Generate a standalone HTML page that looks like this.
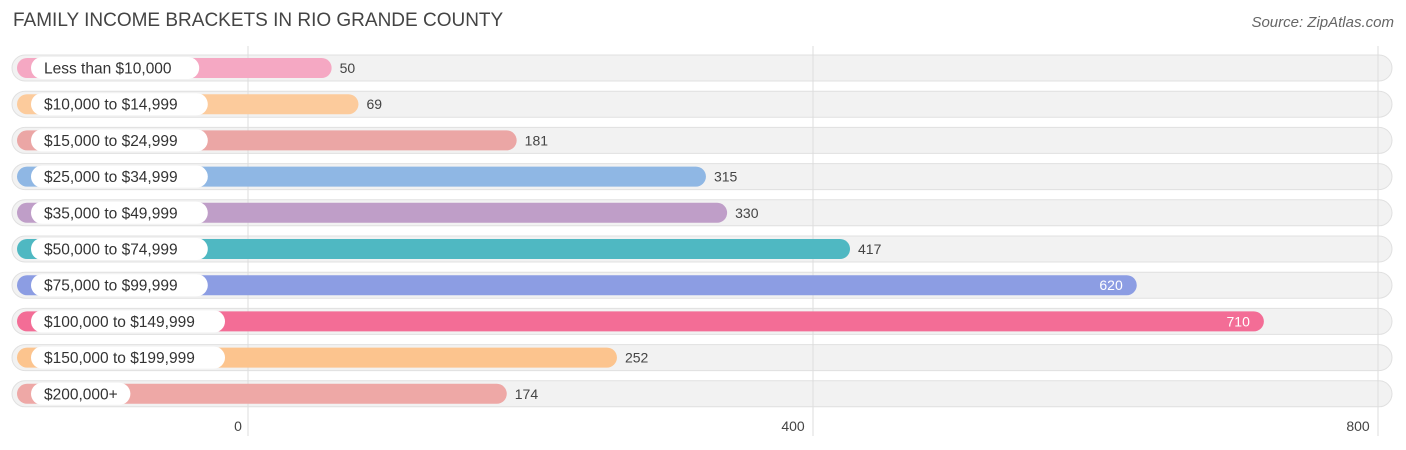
<!DOCTYPE html>
<html><head><meta charset="utf-8"><style>
body{margin:0;width:1406px;height:450px;background:#fff;font-family:"Liberation Sans",sans-serif;position:relative;overflow:hidden}
.t{position:absolute;left:13px;top:10px;font-size:19px;color:#444}
.s{position:absolute;right:12px;top:14px;font-size:15px;color:#666;font-style:italic}
</style></head><body>
<div class="t">FAMILY INCOME BRACKETS IN RIO GRANDE COUNTY</div>
<div class="s">Source: ZipAtlas.com</div>
<svg id="c" width="1406" height="450" style="position:absolute;left:0;top:0"></svg>
<script>
const categories=["Less than $10,000","$10,000 to $14,999","$15,000 to $24,999","$25,000 to $34,999","$35,000 to $49,999","$50,000 to $74,999","$75,000 to $99,999","$100,000 to $149,999","$150,000 to $199,999","$200,000+"];
const values=[50,69,181,315,330,417,620,710,252,174];
const colors=["#f5a8c3","#fccb9c","#eba6a5","#8fb7e4","#bf9ec8","#4fb8c2","#8c9de3","#f36d96","#fcc48e","#eea8a6"];
const ticks=[0,400,800];
const svg=document.getElementById('c');const NS="http://www.w3.org/2000/svg";
const x=v=>248+v*1.4125;
const y=i=>68+i*36.2;
function mk(t,a){const e=document.createElementNS(NS,t);for(const k in a)e.setAttribute(k,a[k]);svg.appendChild(e);return e;}
categories.forEach((c,i)=>{
 const r=mk('rect',{x:12,y:y(i)-13,width:1380,height:26,rx:13,fill:'#f2f2f2',stroke:'#e0e0e0','stroke-width':1});
 
});
ticks.forEach(t=>{
 const l=mk('line',{x1:x(t),x2:x(t),y1:46,y2:436,stroke:'#ddd','stroke-width':1});
 
 const tx=mk('text',{x:x(t)-(t==0?10:20),y:431,'font-size':14,fill:'#444','text-anchor':'middle'});
 tx.textContent=t;
 
});
categories.forEach((c,i)=>{
 const end=x(values[i])+13;
 const b=mk('rect',{x:17,y:y(i)-10,width:end-17,height:20,rx:10,fill:colors[i]});
 
 const w=c.length*8.6+22;
 const p=mk('rect',{x:31,y:y(i)-11,width:w,height:22,rx:11,fill:'#fff'});
 
 const lt=mk('text',{x:44,y:y(i)+5.5,'font-size':15.5,fill:'#333'});lt.textContent=c;
 
 const inside=values[i]>550;
 const vt=mk('text',{x:inside?end-14:end+8,y:y(i)+5,'font-size':14,fill:inside?'#fff':'#444','text-anchor':inside?'end':'start'});
 vt.textContent=values[i];
 
});
</script>
</body></html>
